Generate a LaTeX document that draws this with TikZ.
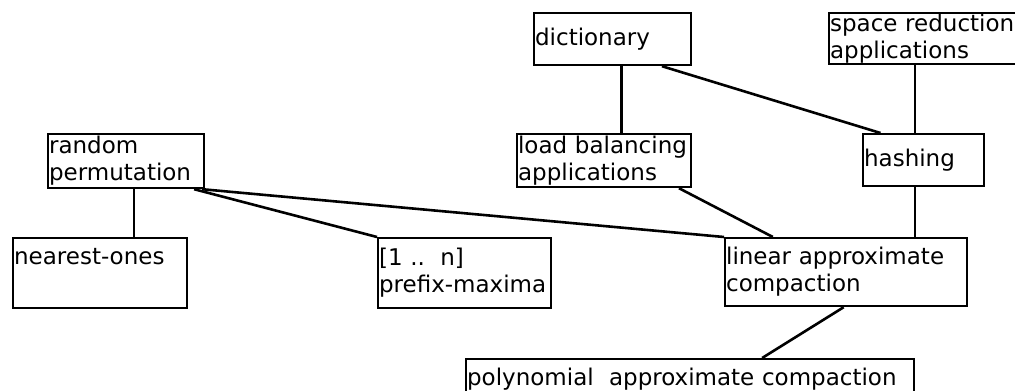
\documentclass[tikz,border=0pt]{standalone}
\usepackage{fontspec}
\setmainfont{DejaVu Sans}
\usepackage{tikz}
\usetikzlibrary{calc}

\tikzset{
  topic/.style={draw, rectangle, anchor=north west, line width=2.2pt,
    inner xsep=1pt, inner ysep=1pt, align=left,
    font=\fontsize{23pt}{27pt}\selectfont},
  link/.style={line width=2.6pt}
}

\begin{document}
\begin{tikzpicture}[x=1pt, y=-1pt]%
\useasboundingbox (0,0) rectangle (1015,391);%
% top row
\node[topic, text width=155pt, minimum height=52pt] (dict) at (533,12) {dictionary};%
\node[topic, text width=198pt, minimum height=51pt] (spacered) at (828,12) {space reduction\\applications};%
% middle row
\node[topic, text width=154pt, minimum height=54pt] (randperm) at (47,133) {random\\permutation};%
\node[topic, text width=172pt, minimum height=53pt] (loadbal) at (516,133) {load balancing\\applications};%
\node[topic, text width=119pt, minimum height=52pt] (hashing) at (862,133) {hashing};%
% lower row
\node[topic, text width=172pt, minimum height=70pt, text depth=33pt] (nearest) at (12,237) {nearest-ones};%
\node[topic, text width=171pt, minimum height=70pt] (prefmax) at (377,237) {[1 ..\ \ n]\\prefix-maxima};%
\node[topic, text width=240pt, minimum height=68pt] (linapx) at (724,237) {linear approximate\\compaction};%
\node[topic, text width=446pt, minimum height=40pt] (polyapx) at (465,358) {polynomial\ \ approximate compaction};%
% where the connectors leave the boxes
\coordinate (rp-a) at ($(randperm.south west)!0.55!(randperm.south east)$);%
\coordinate (rp-b) at ($(randperm.south west)!0.93!(randperm.south east)$);%
\coordinate (rp-c) at ($(randperm.south west)!0.98!(randperm.south east)$);%
\coordinate (dc-a) at ($(dict.south west)!0.554!(dict.south east)$);%
\coordinate (dc-b) at ($(dict.south west)!0.81!(dict.south east)$);%
\coordinate (hs-a) at ($(hashing.north west)!0.15!(hashing.north east)$);%
\coordinate (hs-b) at ($(hashing.north west)!0.43!(hashing.north east)$);%
\coordinate (lb-a) at ($(loadbal.south west)!0.925!(loadbal.south east)$);%
\coordinate (la-a) at ($(linapx.north west)!0.2!(linapx.north east)$);%
\coordinate (la-b) at ($(linapx.south west)!0.49!(linapx.south east)$);%
\coordinate (pa-a) at ($(polyapx.north west)!0.66!(polyapx.north east)$);%
% connectors
\draw[link] (rp-a) -- (rp-a |- nearest.north);%
\draw[link] (rp-b) -- (prefmax.north west);%
\draw[link] (rp-c) -- (linapx.north west);%
\draw[link] (dc-a) -- (dc-a |- loadbal.north);%
\draw[link] (dc-b) -- (hs-a);%
\draw[link] (hs-b |- spacered.south) -- (hs-b);%
\draw[link] (hs-b |- hashing.south) -- (hs-b |- linapx.north);%
\draw[link] (lb-a) -- (la-a);%
\draw[link] (la-b) -- (pa-a);%
\end{tikzpicture}
\end{document}
